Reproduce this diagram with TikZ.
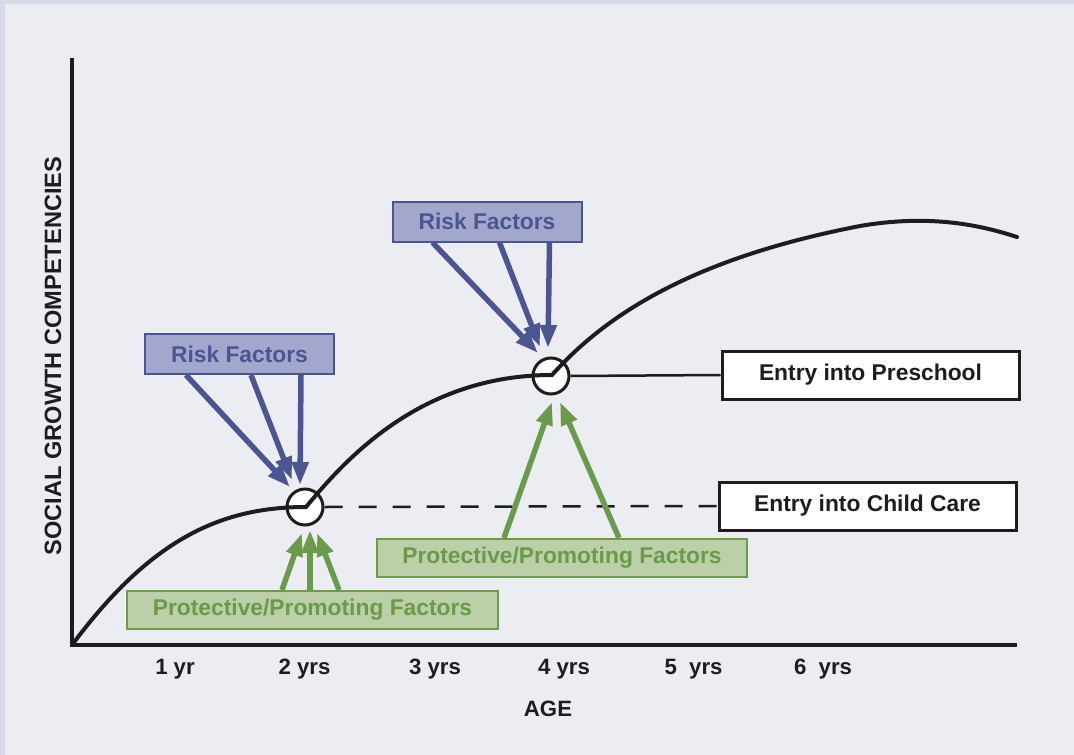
\documentclass[tikz,border=0pt]{standalone}
\usepackage{fontspec}
\setmainfont{Liberation Sans}
\usetikzlibrary{arrows.meta,calc}
\definecolor{bgborder}{HTML}{D8D9E7}
\definecolor{bginner}{HTML}{ECEDF3}
\definecolor{riskfill}{HTML}{A3A7CD}
\definecolor{riskdark}{HTML}{4B5592}
\definecolor{protfill}{HTML}{BBCFA8}
\definecolor{protdark}{HTML}{6A9A4A}
\definecolor{ink}{HTML}{1E1C1D}
\begin{document}
\begin{tikzpicture}[x=1pt,y=-1pt,
  lbl/.style={font=\fontsize{22.8}{27}\selectfont\bfseries, inner sep=0pt},
  ticklbl/.style={font=\fontsize{22.2}{26}\selectfont\bfseries, text=ink, inner sep=0pt},
  riskbox/.style={lbl, draw=riskdark, fill=riskfill, text=riskdark, line width=2pt, minimum width=189pt, minimum height=40pt},
  protbox/.style={lbl, draw=protdark, fill=protfill, text=protdark, line width=2pt, minimum width=370pt, minimum height=38pt},
  entrybox/.style={lbl, draw=ink, fill=white, text=ink, line width=3pt, minimum width=297pt, minimum height=48pt},
  riskarrow/.style={draw=riskdark, line width=5.5pt, -{Triangle[length=23pt,width=16pt]}},
  protarrow/.style={draw=protdark, line width=5.5pt, -{Triangle[length=23pt,width=16pt]}},
  stagecircle/.style={circle, draw=ink, fill=white, line width=3pt, minimum size=36pt, inner sep=0pt},
  curve/.style={draw=ink, line width=4pt, line cap=round},
  axis/.style={draw=ink, line width=3.5pt}
]
\useasboundingbox (0,0) rectangle (1074,755);
\fill[bgborder] (0,0) rectangle (1074,755);
\fill[bginner] (5,4) rectangle (1074,755);

% axes
\coordinate (ytop) at (72,58);
\coordinate (origin) at (72,645);
\coordinate (xend) at (1017,645);
\draw[axis] (ytop) -- (origin) -- (xend);

% stage circles
\node[stagecircle] (c1) at (305,507) {};
\node[stagecircle] (c2) at (551,376) {};
\coordinate (k1) at (306,507);
\coordinate (k2) at (552,375);

% entry boxes
\node[entrybox] (pre) at (870.5,375) {Entry into Preschool};
\node[entrybox] (cc) at (867.5,506) {Entry into Child Care};

% connecting lines
\draw[draw=ink, line width=2.5pt] (c2.east) -- (pre.west);
\draw[draw=ink, line width=2.5pt, dash pattern=on 18pt off 16pt] (c1.east) -- (cc.west);

% growth curve
\draw[curve] (origin) .. controls (150,540) and (220,507) .. (k1)
  .. controls (345,460) and (420,375) .. (k2)
  .. controls (610,310) and (700,257) .. (860,226)
  .. controls (930,214) and (980,225) .. (1017,237);

% factor boxes
\node[riskbox] (r1) at (239.5,354) {Risk Factors};
\node[riskbox] (r2) at (487,221.5) {Risk Factors};
\node[protbox, minimum width=371pt] (p1) at (312.5,610) {Protective/Promoting Factors};
\node[protbox] (p2) at (562,558) {Protective/Promoting Factors};

% risk arrows
\draw[riskarrow] ($(r1.south west)+(42,0)$) -- ($(c1)+(-15,-20)$);
\draw[riskarrow] ($(r1.south west)+(107,0)$) -- ($(c1)+(-13,-27)$);
\draw[riskarrow] ($(r1.south west)+(157,0)$) -- ($(c1)+(-5,-22)$);
\draw[riskarrow] ($(r2.south west)+(41,0)$) -- ($(c2)+(-13,-23)$);
\draw[riskarrow] ($(r2.south west)+(108,0)$) -- ($(c2)+(-11,-29)$);
\draw[riskarrow] ($(r2.south west)+(158,0)$) -- ($(c2)+(-3,-28)$);

% protective arrows
\draw[protarrow] ($(p1.north west)+(156,0)$) -- ($(c1)+(-3,26)$);
\draw[protarrow] ($(p1.north west)+(184,0)$) -- ($(c1)+(5,23)$);
\draw[protarrow] ($(p1.north west)+(213,0)$) -- ($(c1)+(12,26)$);
\draw[protarrow] ($(p2.north west)+(128,0)$) -- ($(c2)+(1,26)$);
\draw[protarrow] ($(p2.north west)+(243,0)$) -- ($(c2)+(9,26)$);

% axis labels
\node[ticklbl] (t1) at (175,669) {1 yr};
\node[ticklbl] (t2) at (304.5,669) {2 yrs};
\node[ticklbl] (t3) at (435,669) {3 yrs};
\node[ticklbl] (t4) at (564,669) {4 yrs};
\node[ticklbl] (t5) at (693.5,669) {5~ yrs};
\node[ticklbl] (t6) at (823,669) {6~ yrs};
\node[ticklbl] (age) at (548,709) {AGE};
\node[ticklbl, font=\fontsize{23.6}{28}\selectfont\bfseries, rotate=90] (ylab) at (53,356) {SOCIAL GROWTH COMPETENCIES};
\end{tikzpicture}
\end{document}
